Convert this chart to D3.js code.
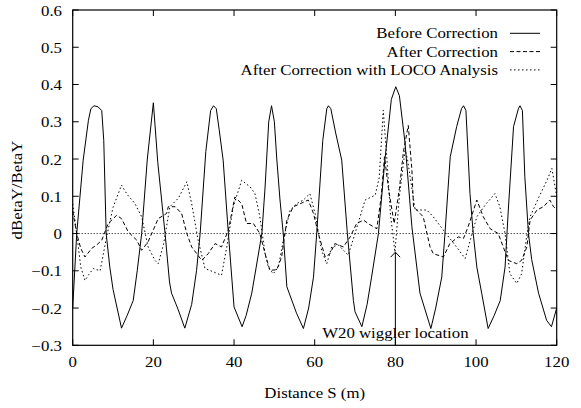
<!DOCTYPE html>
<html>
<head>
<meta charset="utf-8">
<script src="https://cdn.jsdelivr.net/npm/d3@7"></script>
<style>
  body { margin: 0; background: #fff; }
  text { font-family: "Liberation Serif", "Times New Roman", serif; font-size: 14px; fill: #000; }
</style>
</head>
<body>
<svg id="svg" width="581" height="408"></svg>
<script>
// Before Correction (solid)
const sBefore = [0, 1, 2.6, 3.9, 4.5, 5.3, 6.3, 7.2, 7.7, 8.3, 9.2, 10, 12.1, 13.5, 15, 16, 17.1, 18.5, 20, 21.1, 22.9, 24, 24.5, 26, 27.8, 29.5, 30.7, 31.6, 33, 34.2, 34.9, 35.6, 36.3, 37.3, 38.6, 40, 42, 43, 44.4, 45.5, 46.9, 47.7, 48.6, 49.3, 50, 50.6, 51.4, 52.2, 53.1, 55.5, 57.2, 58.5, 59.7, 60.5, 62, 63, 63.4, 64, 65.2, 66.7, 68.1, 69.6, 70, 71.7, 73, 74.1, 75.8, 77.4, 79, 80.1, 81, 82.4, 84.1, 86.1, 88.8, 90, 91.5, 92.3, 93.6, 95.2, 96.4, 96.9, 97.5, 98.5, 99.3, 100.2, 101.4, 103, 104.5, 106, 107.2, 108, 109.3, 110.5, 110.9, 111.5, 112.1, 113, 113.8, 115.5, 117.5, 118.7, 120];
const before = [-0.20, 0.00, 0.197, 0.304, 0.335, 0.343, 0.34, 0.33, 0.25, 0.00, -0.09, -0.15, -0.254, -0.22, -0.18, -0.10, 0.00, 0.20, 0.351, 0.19, 0.00, -0.13, -0.16, -0.20, -0.254, -0.19, -0.10, 0.00, 0.22, 0.33, 0.343, 0.335, 0.28, 0.197, 0.00, -0.197, -0.25, -0.22, -0.16, -0.09, 0.00, 0.125, 0.30, 0.343, 0.30, 0.20, 0.09, 0.00, -0.143, -0.214, -0.255, -0.20, -0.117, 0.00, 0.25, 0.335, 0.343, 0.335, 0.27, 0.197, 0.00, -0.18, -0.21, -0.25, -0.19, -0.117, 0.00, 0.197, 0.36, 0.394, 0.37, 0.243, 0.018, -0.16, -0.255, -0.20, -0.117, 0.00, 0.206, 0.287, 0.335, 0.343, 0.33, 0.108, 0.00, -0.09, -0.16, -0.255, -0.22, -0.18, -0.09, 0.063, 0.287, 0.335, 0.343, 0.33, 0.152, 0.00, -0.07, -0.16, -0.233, -0.25, -0.20];

// After Correction (dashed)
const sAfter = [0, 1, 2, 3.05, 4.7, 6, 7.2, 8.8, 10.9, 12.1, 13.8, 15.9, 17.1, 18.7, 21.2, 23.3, 23.7, 25.4, 27, 28.3, 29.5, 32, 33.6, 35.3, 36.9, 38.6, 40.2, 41.9, 43.1, 44.8, 46.4, 47.7, 48.9, 50.6, 51.8, 53.1, 54.7, 56.4, 58.4, 59.7, 60.9, 62.6, 63.8, 65, 67.1, 68.8, 70.4, 72.1, 73.5, 75.4, 76.5, 77.3, 78.3, 79.7, 81, 82, 83.2, 84.1, 84.5, 86.1, 86.9, 88.6, 89.4, 91.9, 93.5, 95.6, 96.9, 98.1, 100.2, 101.8, 103.5, 105.5, 108, 110.1, 111.3, 112.6, 113.4, 115.1, 116.7, 118.3, 119.2, 120];
const after = [0.06, 0.0, -0.04, -0.063, -0.04, -0.03, -0.018, 0.027, 0.049, 0.04, 0.004, -0.018, -0.045, -0.022, 0.04, 0.054, 0.072, 0.072, 0.054, 0.0, -0.036, -0.072, -0.054, -0.027, -0.036, 0.009, 0.098, 0.08, 0.027, 0.027, 0.0, -0.054, -0.099, -0.097, -0.063, 0.036, 0.072, 0.08, 0.09, 0.054, 0.0, -0.063, -0.054, -0.027, -0.036, -0.009, 0.027, 0.036, 0.025, 0.013, 0.10, 0.206, 0.12, 0.027, 0.12, 0.22, 0.29, 0.17, 0.072, 0.054, 0.045, -0.036, -0.054, -0.063, -0.027, -0.009, -0.013, 0.02, 0.09, 0.045, 0.013, 0.0, -0.072, -0.081, -0.072, -0.036, 0.036, 0.063, 0.072, 0.09, 0.072, 0.065];

// After Correction with LOCO Analysis (dotted)
const sLoco = [0, 1, 2, 3.05, 4, 5.1, 6.8, 8.4, 10, 12.1, 13.5, 15.4, 17.1, 18.7, 20.4, 21.2, 22.5, 24.1, 26.2, 28.3, 29.5, 31.1, 32.8, 34.9, 36.9, 38.2, 39.8, 41.9, 44, 45.2, 46.4, 47.7, 48.5, 49.7, 51, 52.2, 53.9, 55.5, 57.2, 58.8, 60.1, 61.7, 63, 64.2, 65.9, 68.3, 70, 72.5, 75, 76, 77, 77.9, 78.8, 79.9, 81, 82.4, 83, 84.9, 87.8, 89.4, 91.9, 94.8, 97.3, 100.2, 102.5, 104.7, 105.9, 107.2, 108.4, 110.1, 111.3, 112.6, 113.4, 115.6, 117.6, 118.8, 119.6, 120];
const loco = [0.08, 0.0, -0.09, -0.126, -0.11, -0.094, -0.10, -0.009, 0.07, 0.13, 0.105, 0.081, 0.045, -0.036, -0.072, -0.081, -0.03, 0.072, 0.095, 0.139, 0.08, -0.018, -0.094, -0.103, -0.112, -0.036, 0.072, 0.143, 0.125, 0.107, 0.045, -0.054, -0.09, -0.108, -0.09, -0.018, 0.063, 0.08, 0.09, 0.107, 0.054, -0.045, -0.081, -0.036, -0.031, -0.058, 0.0, 0.09, 0.103, 0.15, 0.331, 0.2, 0.05, -0.05, 0.10, 0.224, 0.20, 0.063, 0.063, 0.045, 0.009, -0.031, -0.067, 0.045, 0.08, 0.107, 0.072, 0.0, -0.108, -0.134, -0.108, -0.004, 0.045, 0.098, 0.143, 0.175, 0.125, 0.1];

const xTicks = [0, 20, 40, 60, 80, 100, 120];
const yTicks = [-0.3, -0.2, -0.1, 0, 0.1, 0.2, 0.3, 0.4, 0.5, 0.6];
const seriesNames = ["Before Correction", "After Correction", "After Correction with LOCO Analysis"];
const seriesDash = [null, "4,2.5", "1.5,2.5"];

const plotLeft = 72.7, plotRight = 556.7, plotTop = 10, plotBottom = 345.3;
const stretch = 1.2; // text is drawn a bit wide, like the original

const svg = d3.select("#svg");
const x = d3.scaleLinear().domain([0, 120]).range([plotLeft, plotRight]);
const y = d3.scaleLinear().domain([-0.3, 0.6]).range([plotBottom, plotTop]);

function label(g, str, tx, ty, anchor, rot) {
    return g.append("text")
        .attr("transform", `translate(${tx},${ty}) rotate(${rot || 0}) scale(${stretch},1)`)
        .attr("text-anchor", anchor)
        .text(str);
}

// zero line
svg.append("line")
    .attr("x1", x(0)).attr("x2", x(120))
    .attr("y1", y(0)).attr("y2", y(0))
    .attr("stroke", "#000").attr("stroke-width", 1)
    .attr("stroke-dasharray", "1,2");

// curves
const line = d3.line().x(d => x(d[0])).y(d => y(d[1]));
const curves = [d3.zip(sBefore, before), d3.zip(sAfter, after), d3.zip(sLoco, loco)];
curves.forEach((pts, i) => {
    svg.append("path")
        .attr("d", line(pts))
        .attr("fill", "none")
        .attr("stroke", "#000")
        .attr("stroke-width", 1)
        .attr("stroke-linejoin", "round")
        .attr("stroke-dasharray", seriesDash[i]);
});

// ticks (inward, mirrored)
const tl = 6;
xTicks.forEach(t => {
    svg.append("line").attr("x1", x(t)).attr("x2", x(t)).attr("y1", plotBottom).attr("y2", plotBottom - tl).attr("stroke", "#000");
    svg.append("line").attr("x1", x(t)).attr("x2", x(t)).attr("y1", plotTop).attr("y2", plotTop + tl).attr("stroke", "#000");
    label(svg, d3.format("d")(t), x(t), 367, "middle");
});
yTicks.forEach(t => {
    svg.append("line").attr("x1", plotLeft).attr("x2", plotLeft + tl).attr("y1", y(t)).attr("y2", y(t)).attr("stroke", "#000");
    svg.append("line").attr("x1", plotRight).attr("x2", plotRight - tl).attr("y1", y(t)).attr("y2", y(t)).attr("stroke", "#000");
    label(svg, t === 0 ? "0" : d3.format(".1f")(t), 62, y(t) + 5.5, "end");
});

// frame
svg.append("rect")
    .attr("x", plotLeft).attr("y", plotTop)
    .attr("width", plotRight - plotLeft).attr("height", plotBottom - plotTop)
    .attr("fill", "none").attr("stroke", "#000").attr("stroke-width", 1.2);

// axis titles
label(svg, "Distance S (m)", (plotLeft + plotRight) / 2, 398, "middle");
label(svg, "dBetaY/BetaY", 22, 190, "middle", -90);

// legend
seriesNames.forEach((name, i) => {
    const ly = 33.3 + i * 18.3;
    label(svg, name, 498, ly + 5, "end");
    svg.append("line")
        .attr("x1", 510).attr("x2", 540)
        .attr("y1", ly).attr("y2", ly)
        .attr("stroke", "#000").attr("stroke-width", 1)
        .attr("stroke-dasharray", seriesDash[i]);
});

// wiggler arrow
const ax = x(80), tip = y(-0.05);
svg.append("line").attr("x1", ax).attr("x2", ax).attr("y1", y(-0.3)).attr("y2", tip).attr("stroke", "#000");
svg.append("path")
    .attr("d", `M${ax - 4.7},${tip + 5} L${ax},${tip} L${ax + 4.7},${tip + 5}`)
    .attr("fill", "none").attr("stroke", "#000");
label(svg, "W20 wiggler location", ax, 338, "middle");
</script>
</body>
</html>
